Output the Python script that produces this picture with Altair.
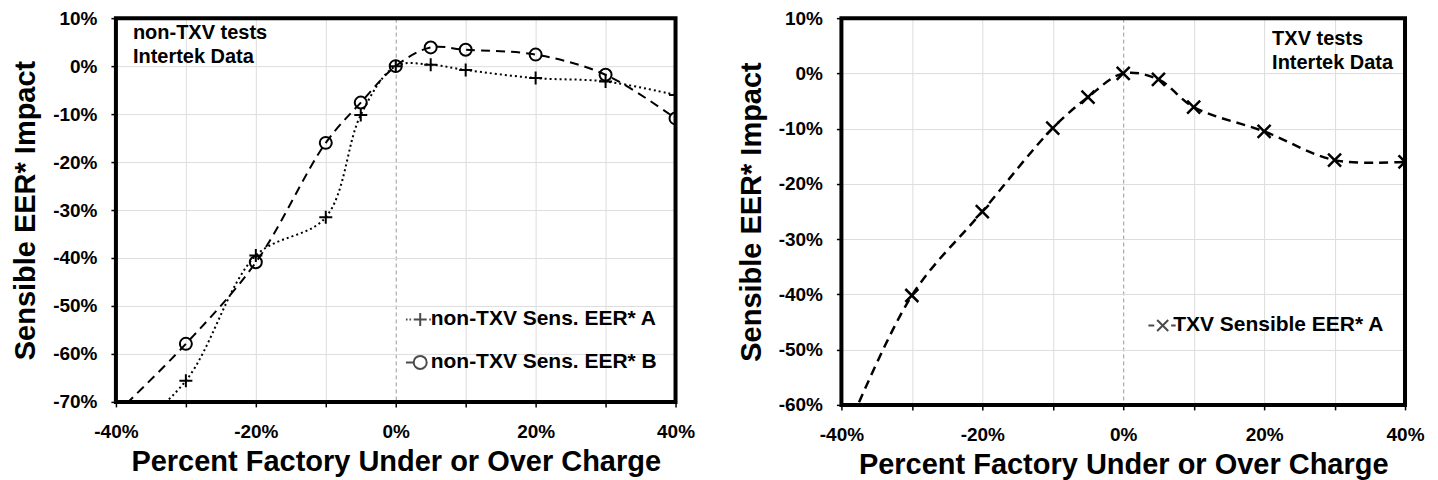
import altair as alt
import pandas as pd

# ---- data (percent) ----
x_pct = [-40, -30, -20, -10, -5, 0, 5, 10, 20, 30, 40]
nontxv_a = [-79.0, -65.6, -39.5, -31.5, -10.2, 0.0, 0.3, -0.8, -2.5, -3.2, -6.0]
nontxv_b = [-72.5, -57.9, -40.9, -16.0, -7.6, 0.0, 3.9, 3.4, 2.4, -1.8, -10.9]
txv_a = [-67.0, -40.2, -25.0, -9.9, -4.3, 0.0, -1.1, -6.1, -10.5, -15.7, -16.0]

name_a = "non-TXV Sens. EER* A"
name_b = "non-TXV Sens. EER* B"
name_t = "TXV Sensible EER* A"

x_range = [-40, 40]
y_range_left = [-70, 10]
y_range_right = [-60, 10]
x_ticks = [-40, -30, -20, -10, 0, 10, 20, 30, 40]
y_ticks_left = list(range(-70, 11, 5))
y_ticks_right = list(range(-60, 11, 5))

FONT = "Liberation Sans"

def frame(name, ys):
    return pd.DataFrame({"series": name, "x": x_pct, "y": ys})

df_left = pd.concat([frame(name_a, nontxv_a), frame(name_b, nontxv_b)], ignore_index=True)
df_right = frame(name_t, txv_a)

PLUS = "M-1,0L1,0M0,-1L0,1"
XMARK = "M-1,-1L1,1M-1,1L1,-1"
LEG_A = ("M-2.2,0L-1.95,0M-1.65,0L-1.4,0M-1,0L1,0M1.4,0L1.65,0M1.95,0L2.2,0M0,-1L0,1")
LEG_B = ("M-2.2,0L-1,0M-1,0A1,1 0 1,1 1,0A1,1 0 1,1 -1,0")
LEG_T = ("M-2.2,0L-1.3,0M-0.85,-0.85L0.85,0.85M-0.85,0.85L0.85,-0.85M1.3,0L2.0,0")


def x_enc():
    return alt.X(
        "x:Q",
        scale=alt.Scale(domain=x_range, nice=False, zero=False),
        axis=alt.Axis(
            values=x_ticks,
            labelExpr="round(datum.value) % 20 == 0 ? round(datum.value) + '%' : ''",
            title="Percent Factory Under or Over Charge",
            labelFlush=False,
            labelOverlap=False,
            gridDash={"condition": {"test": "abs(datum.value) < 0.001", "value": [4, 3]}, "value": []},
            gridColor={"condition": {"test": "abs(datum.value) < 0.001", "value": "#9a9a9a"}, "value": "#dcdcdc"},
            labelPadding=16,
            titlePadding=6,
        ),
    )


def y_enc(yr, ticks):
    return alt.Y(
        "y:Q",
        scale=alt.Scale(domain=yr, nice=False, zero=False),
        axis=alt.Axis(
            values=ticks,
            labelExpr="round(datum.value) % 10 == 0 ? round(datum.value) + '%' : ''",
            title="Sensible EER* Impact",
            labelOverlap=False,
            gridOpacity={"condition": {"test": "round(datum.value) % 10 != 0", "value": 0}, "value": 1},
            labelPadding=14,
            titlePadding=12,
        ),
    )


def line(df, name, dash, width, yr, ticks):
    return alt.Chart(df).transform_filter(alt.datum.series == name).mark_line(
        interpolate="catmull-rom", color="black", strokeDash=dash, strokeWidth=width, clip=True
    ).encode(x=x_enc(), y=y_enc(yr, ticks))


def points(df, name, shape, size, width, yr, ticks):
    return alt.Chart(df).transform_filter(
        (alt.datum.series == name) & (alt.datum.x > x_range[0])
    ).mark_point(
        shape=shape, size=size, color="black", filled=False, strokeWidth=width, opacity=1, clip=True
    ).encode(x=x_enc(), y=y_enc(yr, ticks))


def border(yr):
    return alt.Chart(pd.DataFrame({"x0": [x_range[0]], "x1": [x_range[1]], "y0": [yr[0]], "y1": [yr[1]]})).mark_rect(
        fill="white", fillOpacity=0, stroke="black", strokeWidth=4, strokeOpacity=1
    ).encode(
        x=alt.X("x0:Q"), x2="x1:Q",
        y=alt.Y("y0:Q"), y2="y1:Q",
    )


def legend_layer(names, paths, lx, ly):
    return alt.Chart(pd.DataFrame({"series": names})).transform_filter("false").mark_point(
        filled=False, color="black"
    ).encode(
        shape=alt.Shape(
            "series:N",
            scale=alt.Scale(domain=names, range=paths),
            legend=alt.Legend(
                orient="none", legendX=lx, legendY=ly, title=None,
                labelFont=FONT, labelFontSize=21, labelFontWeight="bold", labelColor="black",
                labelOffset=0, rowPadding=21, symbolSize=169, symbolStrokeWidth=2,
                symbolStrokeColor="black", symbolFillColor="transparent", padding=0,
                labelLimit=400,
            ),
        )
    )


def note(lines, px, py):
    return alt.Chart(pd.DataFrame({"t": [0]})).mark_text(
        text=lines, align="left", baseline="middle", font=FONT, fontSize=20,
        fontWeight="bold", color="black", lineHeight=24
    ).encode(x=alt.value(px), y=alt.value(py))


left = alt.layer(
    line(df_left, name_a, [2, 3], 2, y_range_left, y_ticks_left),
    line(df_left, name_b, [9, 6], 2, y_range_left, y_ticks_left),
    points(df_left, name_a, PLUS, 169, 2, y_range_left, y_ticks_left),
    points(df_left, name_b, "circle", 144, 2, y_range_left, y_ticks_left),
    legend_layer([name_a, name_b], [LEG_A, LEG_B], 294, 291),
    note(["non-TXV tests", "Intertek Data"], 17, 15),
    border(y_range_left),
).properties(width=560, height=384)

right = alt.layer(
    line(df_right, name_t, [9, 6], 2.5, y_range_right, y_ticks_right),
    points(df_right, name_t, XMARK, 169, 2.5, y_range_right, y_ticks_right),
    legend_layer([name_t], [LEG_T], 311, 297),
    note(["TXV tests", "Intertek Data"], 431, 21),
    border(y_range_right),
).properties(width=564, height=387)

chart = alt.hconcat(left, right, spacing=41).resolve_scale(
    x="independent", y="independent", shape="independent"
).resolve_legend(shape="independent").properties(
    padding={"left": 3, "top": 0, "right": 5, "bottom": 5}
).configure_view(
    stroke="transparent"
).configure_axis(
    domain=False,
    grid=True,
    gridWidth=1,
    tickColor="black",
    tickWidth=1.5,
    tickSize=5,
    labelFont=FONT,
    labelFontSize=19,
    labelFontWeight="bold",
    labelColor="black",
    titleFont=FONT,
    titleFontSize=29,
    titleFontWeight="bold",
    titleColor="black",
)

chart.save("out.html", embed_options={"renderer": "svg", "actions": False})
